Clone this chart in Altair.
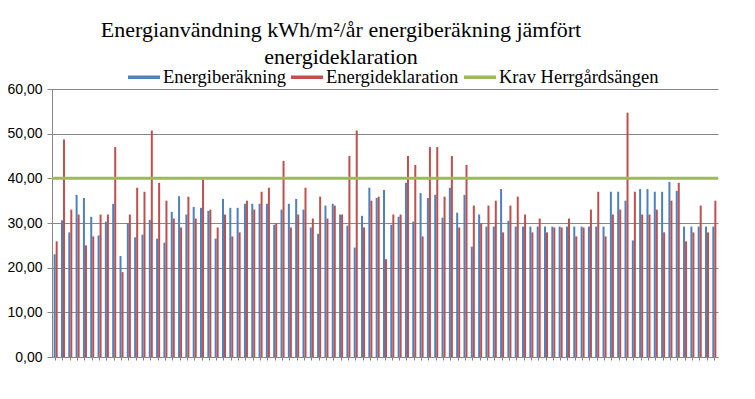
import altair as alt
import pandas as pd

series_names = ["Energiberäkning", "Energideklaration", "Krav Herrgårdsängen"]
series_colors = ["#4F81BD", "#C0504D", "#9BBB59"]

energiberakning = [
    23.0, 30.6, 27.9, 36.3, 35.6, 31.4, 27.2, 30.3, 34.3, 22.6, 30.0, 26.8, 27.4,
    30.7, 26.5, 25.6, 32.5, 36.0, 31.9, 33.6, 33.4, 32.7, 26.5, 35.4, 33.4, 33.4,
    34.3, 34.3, 34.3, 34.3, 29.6, 33.0, 34.3, 35.4, 33.0, 29.0, 27.6, 33.9, 34.3, 31.9,
    29.4, 24.5, 31.6, 37.9, 35.6, 37.4, 29.6, 31.4, 39.0, 30.3, 36.7, 35.6, 36.3,
    31.2, 37.9, 32.3, 36.3, 24.7, 31.9, 29.2, 29.2, 37.6, 30.5, 29.2, 29.2, 29.2,
    29.2, 29.2, 29.2, 29.2, 29.2, 29.2, 29.2, 29.2, 29.2, 29.2, 37.0, 37.0, 35.0,
    26.1, 37.6, 37.6, 37.0, 37.0, 39.2, 37.2, 29.2, 29.2, 29.2, 29.2, 29.2,
]
energideklaration = [
    25.9, 48.7, 33.0, 31.9, 25.0, 27.0, 31.9, 31.9, 47.0, 19.0, 31.9, 37.9, 37.0,
    50.7, 39.0, 35.0, 31.0, 29.0, 35.9, 31.0, 39.7, 33.0, 29.0, 31.9, 27.0, 27.9,
    35.0, 33.0, 37.0, 37.9, 29.9, 43.9, 29.0, 31.9, 37.9, 31.0, 35.9, 31.0, 33.9, 31.9,
    45.0, 50.7, 29.0, 35.0, 35.9, 21.9, 31.9, 31.9, 45.0, 43.0, 27.0, 47.0, 47.0,
    35.9, 45.0, 29.0, 43.0, 33.9, 29.9, 33.9, 35.0, 27.9, 33.9, 35.9, 31.9, 27.9,
    31.0, 27.9, 29.0, 29.0, 31.0, 27.0, 29.0, 33.0, 37.0, 27.0, 31.9, 33.0, 54.7,
    37.0, 31.9, 31.9, 33.0, 27.9, 35.0, 39.0, 25.9, 27.9, 33.9, 27.9, 35.0,
]
krav = 40.0
y_ticks = [0, 10, 20, 30, 40, 50, 60]
categories = [f"{i + 1}" for i in range(len(energiberakning))]

rows = []
for c, b, r in zip(categories, energiberakning, energideklaration):
    rows.append({"cat": c, "series": series_names[0], "value": b})
    rows.append({"cat": c, "series": series_names[1], "value": r})
bars_df = pd.DataFrame(rows)
rule_df = pd.DataFrame({"series": [series_names[2]], "value": [krav]})

color_scale = alt.Scale(domain=series_names, range=series_colors)
y_scale = alt.Scale(domain=[0, 60], nice=False)

bars = alt.Chart(bars_df).mark_bar().encode(
    x=alt.X("cat:N", sort=categories,
            scale=alt.Scale(paddingInner=0.45, paddingOuter=0.225),
            axis=alt.Axis(title=None, labels=False, ticks=True, tickSize=3,
                          tickColor="#7f7f7f", domainColor="#868686", grid=False)),
    xOffset=alt.XOffset("series:N", sort=series_names[:2]),
    y=alt.Y("value:Q", scale=y_scale,
            axis=alt.Axis(title=None, values=y_ticks, format=".2f",
                          labelExpr="replace(datum.label, '.', ',')",
                          labelFont="Liberation Sans", labelFontSize=14,
                          labelColor="#000000", labelPadding=5,
                          tickSize=5, tickColor="#868686",
                          domainColor="#868686", gridColor="#868686",
                          gridWidth=1)),
    color=alt.Color("series:N", scale=color_scale,
                    legend=alt.Legend(title=None, orient="none", direction="horizontal",
                                      legendX=76, legendY=-28,
                                      symbolType="M-1,-0.11H1V0.11H-1Z",
                                      symbolSize=1024, symbolStrokeWidth=0,
                                      labelFont="Liberation Serif", labelFontSize=18.5,
                                      labelColor="#000000", labelOffset=3,
                                      columnPadding=5)),
)

rule = alt.Chart(rule_df).mark_rule(strokeWidth=3).encode(
    y=alt.Y("value:Q", scale=y_scale),
    color=alt.Color("series:N", scale=color_scale),
)

chart = alt.layer(bars, rule).properties(
    width=666,
    height=268,
    autosize=alt.AutoSizeParams(type="none"),
    padding={"left": 44, "top": 81, "right": 29, "bottom": 30},
    title=alt.TitleParams(
        text=["Energianvändning kWh/m²/år energiberäkning jämfört", "energideklaration"],
        font="Liberation Serif", fontSize=22, fontWeight="normal", color="#000000",
        anchor="middle", dx=-44, dy=5, offset=-3, lineHeight=27,
    ),
).configure_view(stroke=None).configure_axis(labelFont="Liberation Sans")

chart.save("out.html", embed_options={"renderer": "svg", "actions": False})
